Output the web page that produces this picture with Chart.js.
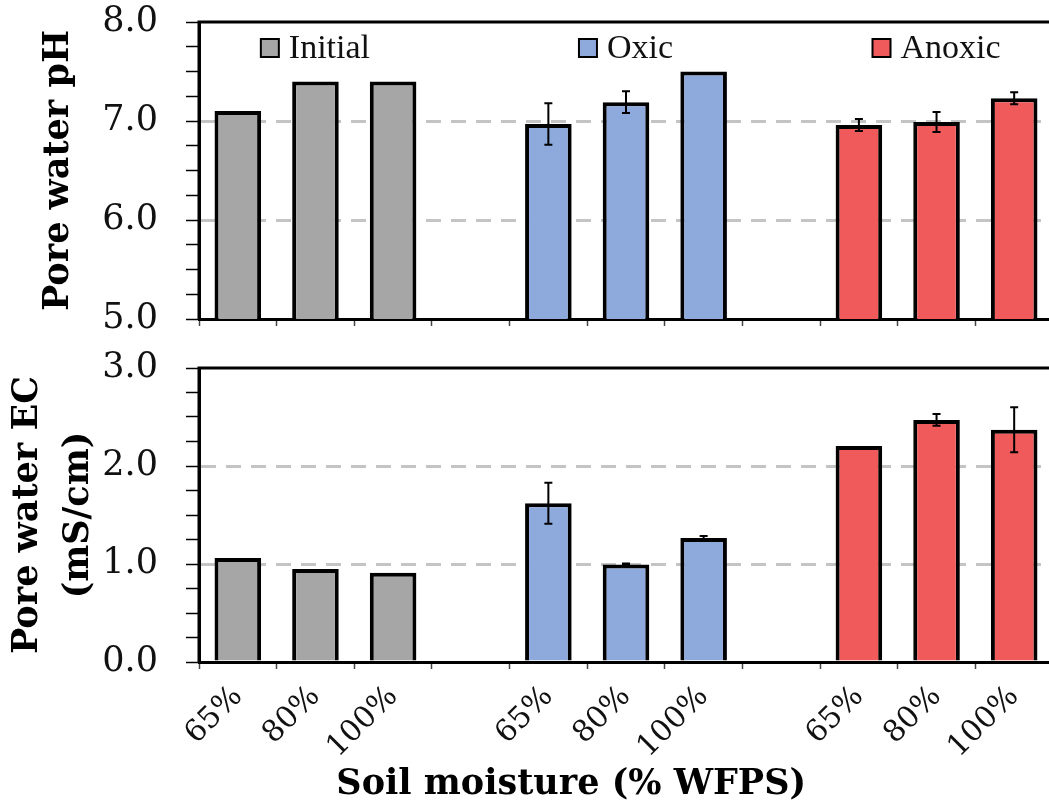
<!DOCTYPE html>
<html>
<head>
<meta charset="utf-8">
<script src="https://cdn.jsdelivr.net/npm/chart.js@4/dist/chart.umd.min.js"></script>
<style>
  html, body { margin: 0; padding: 0; background: #fff; overflow: hidden; }
  .panel { position: absolute; left: 0; width: 1060px; }
  #topPanel { top: 0; height: 340px; }
  #botPanel { top: 340px; height: 470px; }
</style>
</head>
<body>
<div class="panel" id="topPanel"><canvas id="phChart" width="1060" height="340"></canvas></div>
<div class="panel" id="botPanel"><canvas id="ecChart" width="1060" height="470"></canvas></div>
<script>
// categories: three moisture levels per treatment, blank slot between groups
const categories = ['65%', '80%', '100%', '', '65%', '80%', '100%', '', '65%', '80%', '100%'];
const groupNames = ['Initial', 'Oxic', 'Anoxic'];
const groupColors = ['#a6a6a6', '#8eaadc', '#f15a5a'];

// pore water pH
const phInitial = [7.10, 7.40, 7.40, null, null, null, null, null, null, null, null];
const phOxic    = [null, null, null, null, 6.97, 7.19, 7.50, null, null, null, null];
const phAnoxic  = [null, null, null, null, null, null, null, null, 6.96, 6.99, 7.23];
const phInitialErr = [0, 0, 0, 0, 0, 0, 0, 0, 0, 0, 0];
const phOxicErr    = [0, 0, 0, 0, 0.21, 0.11, 0, 0, 0, 0, 0];
const phAnoxicErr  = [0, 0, 0, 0, 0, 0, 0, 0, 0.06, 0.10, 0.06];

// pore water EC (mS/cm)
const ecInitial = [1.06, 0.95, 0.91, null, null, null, null, null, null, null, null];
const ecOxic    = [null, null, null, null, 1.62, 0.995, 1.265, null, null, null, null];
const ecAnoxic  = [null, null, null, null, null, null, null, null, 2.205, 2.47, 2.37];
const ecInitialErr = [0, 0, 0, 0, 0, 0, 0, 0, 0, 0, 0];
const ecOxicErr    = [0, 0, 0, 0, 0.21, 0.01, 0.02, 0, 0, 0, 0];
const ecAnoxicErr  = [0, 0, 0, 0, 0, 0, 0, 0, 0, 0.06, 0.23];

const serif = "'DejaVu Serif', serif";

function makeDatasets(values, errs) {
  return values.map((v, i) => ({
    label: groupNames[i],
    data: v,
    errors: errs[i],
    backgroundColor: groupColors[i],
    borderColor: '#000',
    borderWidth: 4,
    grouped: false,
    barPercentage: 0.6,
    categoryPercentage: 1.0
  }));
}

// error bars drawn from dataset.errors through the y scale
const errorBars = {
  id: 'errorBars',
  afterDatasetsDraw(chart) {
    const ctx = chart.ctx;
    const y = chart.scales.y;
    ctx.save();
    ctx.strokeStyle = '#000';
    ctx.lineWidth = 2;
    chart.data.datasets.forEach((ds, i) => {
      const meta = chart.getDatasetMeta(i);
      ds.data.forEach((v, j) => {
        const e = ds.errors[j];
        if (v == null || !e) return;
        const x = meta.data[j].x;
        const yt = y.getPixelForValue(v + e);
        const yb = y.getPixelForValue(v - e);
        ctx.beginPath();
        ctx.moveTo(x, yt); ctx.lineTo(x, yb);
        ctx.moveTo(x - 4, yt); ctx.lineTo(x + 4, yt);
        ctx.moveTo(x - 4, yb); ctx.lineTo(x + 4, yb);
        ctx.stroke();
      });
    });
    ctx.restore();
  }
};

// box round the plot area
const frame = {
  id: 'frame',
  afterDatasetsDraw(chart) {
    const a = chart.chartArea;
    const ctx = chart.ctx;
    ctx.save();
    ctx.strokeStyle = '#000';
    ctx.lineWidth = 3;
    ctx.beginPath();
    ctx.moveTo(a.left, a.bottom);
    ctx.lineTo(a.left, a.top);
    ctx.lineTo(a.right, a.top);
    ctx.lineTo(a.right, a.bottom);
    ctx.stroke();
    ctx.restore();
  }
};

// legend entries sit over the middle bar of each group
const groupLegend = {
  id: 'groupLegend',
  afterDraw(chart, args, opts) {
    if (!opts.show) return;
    const ctx = chart.ctx;
    const xs = chart.scales.x;
    ctx.save();
    ctx.font = "34px 'Liberation Serif', serif";
    ctx.textBaseline = 'middle';
    chart.data.datasets.forEach(ds => {
      const idx = ds.data.map((v, k) => v == null ? -1 : k).filter(k => k >= 0);
      const mid = idx[Math.floor(idx.length / 2)];
      const cx = xs.getPixelForValue(mid);
      const tw = ctx.measureText(ds.label).width;
      const total = 18 + 10 + tw;
      const x0 = cx - total / 2;
      ctx.fillStyle = ds.backgroundColor;
      ctx.fillRect(x0, 39, 18, 18);
      ctx.strokeStyle = '#000';
      ctx.lineWidth = 2;
      ctx.strokeRect(x0, 39, 18, 18);
      ctx.fillStyle = '#111';
      ctx.fillText(ds.label, x0 + 28, 49);
    });
    ctx.restore();
  }
};

function yScale(min, max, title, titleFont, titlePad) {
  return {
    min: min,
    max: max,
    afterFit: s => { s.width = 199; s.paddingTop = 0; s.paddingBottom = 0; },
    ticks: {
      stepSize: 0.25,
      autoSkip: false,
      padding: 28,
      color: '#111',
      font: { family: serif, size: 35 },
      callback: v => Number.isInteger(v) ? v.toFixed(1) : ''
    },
    grid: {
      color: c => (c.tick && Number.isInteger(c.tick.value) && c.tick.value > min && c.tick.value < max) ? '#c4c4c4' : 'rgba(0,0,0,0)',
      lineWidth: 3,
      tickColor: '#000',
      tickLength: 13,
      tickWidth: 1.5
    },
    border: { color: '#000', width: 3, dash: [15, 10] },
    title: {
      display: true,
      text: title,
      color: '#000',
      font: titleFont,
      padding: titlePad
    }
  };
}

new Chart(document.getElementById('phChart'), {
  type: 'bar',
  data: {
    labels: categories,
    datasets: makeDatasets([phInitial, phOxic, phAnoxic], [phInitialErr, phOxicErr, phAnoxicErr])
  },
  options: {
    responsive: false,
    animation: false,
    layout: { padding: { top: 22, right: 7, left: 0, bottom: 0 } },
    plugins: { legend: { display: false }, tooltip: { enabled: false }, groupLegend: { show: true } },
    scales: {
      x: {
        offset: true,
        afterFit: s => { s.height = 21; },
        ticks: { display: false },
        grid: { offset: true, drawOnChartArea: false, tickLength: 7, tickColor: '#444', tickWidth: 1.5 },
        border: { color: '#000', width: 3 }
      },
      y: yScale(5, 8, 'Pore water pH', { family: serif, size: 35, weight: 'bold', lineHeight: 1.1 }, { top: 40, bottom: 0 })
    }
  },
  plugins: [errorBars, frame, groupLegend]
});

new Chart(document.getElementById('ecChart'), {
  type: 'bar',
  data: {
    labels: categories,
    datasets: makeDatasets([ecInitial, ecOxic, ecAnoxic], [ecInitialErr, ecOxicErr, ecAnoxicErr])
  },
  options: {
    responsive: false,
    animation: false,
    layout: { padding: { top: 28, right: 7, left: 0, bottom: 0 } },
    plugins: { legend: { display: false }, tooltip: { enabled: false }, groupLegend: { show: false } },
    scales: {
      x: {
        offset: true,
        afterFit: s => { s.height = 148; },
        ticks: {
          autoSkip: false,
          minRotation: 45,
          maxRotation: 45,
          padding: 10,
          color: '#111',
          font: { family: serif, size: 30 }
        },
        grid: { offset: true, drawOnChartArea: false, tickLength: 7, tickColor: '#444', tickWidth: 1.5 },
        border: { color: '#000', width: 3 },
        title: {
          display: true,
          text: 'Soil moisture (% WFPS)         ',
          color: '#000',
          font: { family: serif, size: 35, weight: 'bold' },
          padding: { top: 0, bottom: 4 }
        }
      },
      y: yScale(0, 3, ['Pore water EC', '(mS/cm)'], { family: serif, size: 35, weight: 'bold', lineHeight: 1.45 }, { top: 3, bottom: 0 })
    }
  },
  plugins: [errorBars, frame, groupLegend]
});
</script>
</body>
</html>
